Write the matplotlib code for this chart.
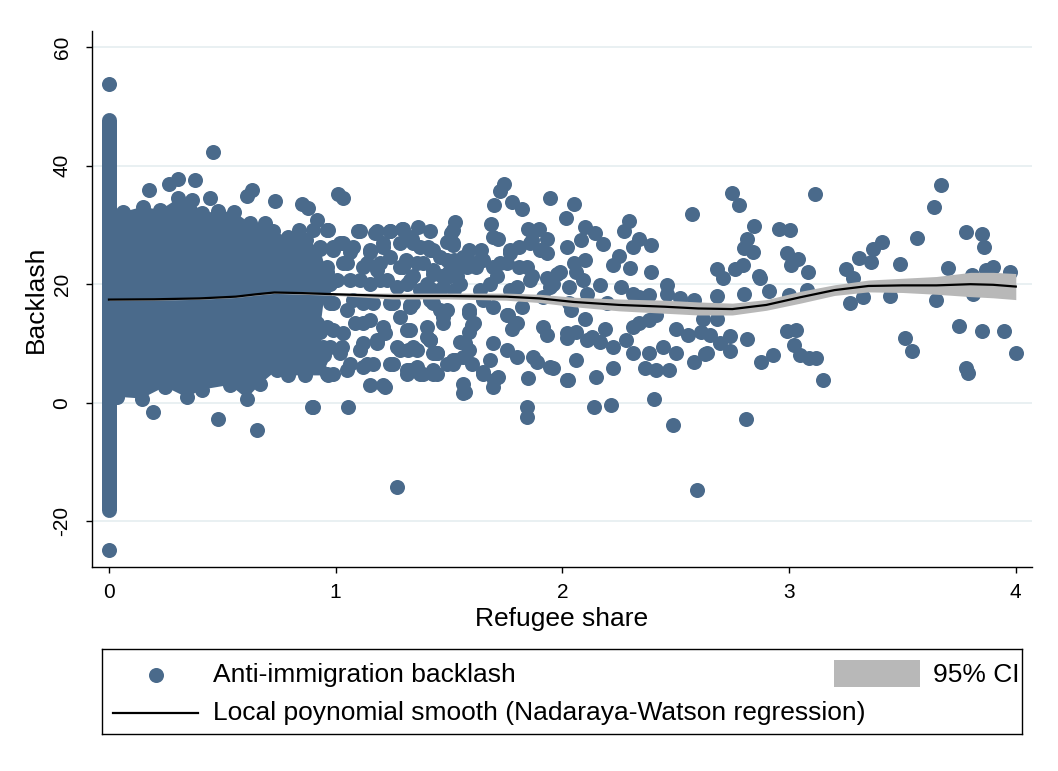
import matplotlib
matplotlib.use('Agg')
import matplotlib.pyplot as plt
from matplotlib.patches import Polygon, Rectangle
from matplotlib.lines import Line2D

# -------------------------------------------
# data
# x = refugee share, y = backlash

# the column of observations sitting at refugee share 0
col_x = 0.0
col_y_lo = -18.2
col_y_hi = 47.7

# solid mass of overlapping markers (outline markers only, inside is one blob)
blob_top_x = [0.03, 0.063, 0.151, 0.225, 0.306, 0.365, 0.409, 0.48, 0.553, 0.622,
              0.69, 0.725, 0.79, 0.838, 0.87, 0.93, 0.96, 0.95]
blob_top_y = [31.5, 32.2, 33.1, 32.5, 34.5, 34.2, 32.0, 32.3, 32.2, 30.3,
              30.4, 28.9, 28.0, 29.1, 27.5, 26.0, 22.0, 18.0]
blob_bot_x = [0.034, 0.144, 0.247, 0.343, 0.409, 0.534, 0.607, 0.666, 0.74, 0.791,
              0.865, 0.967, 0.95, 0.93]
blob_bot_y = [1.0, 0.7, 2.7, 0.9, 2.2, 3.0, 0.7, 3.1, 5.5, 4.6,
              4.6, 4.6, 8.0, 12.0]

# individual markers
pts = [
    # around the blob
    (0.0, 53.8), (0.0, -24.9),
    (0.176, 35.9), (0.265, 37.0), (0.303, 37.7), (0.379, 37.6), (0.46, 42.4), (0.446, 34.5),
    (0.607, 34.9), (0.63, 35.9), (0.732, 34.0), (0.853, 33.6), (0.879, 32.8), (0.916, 30.8),
    (1.009, 35.2), (1.034, 34.5),
    (0.195, -1.6), (0.482, -2.8), (0.654, -4.6), (0.894, -0.7), (1.056, -0.7), (1.27, -14.3),
    # 0.85 - 1.5
    (0.901, 29.1), (0.967, 29.1), (1.034, 26.9), (1.100, 28.9), (1.181, 28.9), (1.240, 28.9),
    (1.291, 29.4), (1.364, 29.7), (1.416, 28.9), (1.490, 27.2),
    (0.989, 26.3), (1.063, 25.5), (1.151, 25.5), (1.210, 26.3), (1.284, 26.9), (1.335, 27.7),
    (1.408, 26.3), (1.460, 24.6),
    (0.872, 24.6), (0.931, 26.3), (1.034, 23.5), (1.137, 23.5), (1.181, 22.4), (1.240, 24.6),
    (1.298, 22.9), (1.357, 23.5), (1.431, 21.8), (1.490, 21.8),
    (0.931, 20.7), (1.004, 20.7), (1.107, 20.7), (1.195, 20.7), (1.269, 19.6), (1.328, 20.7),
    (1.401, 19.6), (1.475, 19.6),
    (0.887, 16.2), (0.975, 16.8), (1.049, 15.6), (1.122, 16.8), (1.240, 16.8), (1.342, 16.8),
    (1.460, 15.6),
    (0.916, 13.4), (0.989, 12.2), (1.085, 13.4), (1.151, 13.9), (1.217, 11.7), (1.284, 14.5),
    (1.328, 12.2), (1.401, 12.8), (1.475, 14.5),
    (0.872, 10.6), (0.945, 9.4), (1.026, 9.4), (1.122, 10.0), (1.181, 10.6), (1.284, 8.9),
    (1.342, 9.4), (1.416, 10.6), (1.445, 8.3),
    (0.872, 6.6), (0.931, 7.2), (0.989, 4.9), (1.063, 6.6), (1.137, 6.6), (1.254, 6.6),
    (1.313, 4.9), (1.386, 4.9), (1.445, 4.9), (1.490, 6.6),
    (1.151, 3.0), (1.217, 2.7), (0.901, -0.7),
    # second pass over 0.95 - 1.55 (packed area)
    (0.960, 29.1), (1.019, 26.9), (1.107, 28.9), (1.173, 28.6), (1.240, 28.9), (1.298, 29.4),
    (1.519, 29.1), (1.519, 26.9),
    (0.989, 25.8), (1.078, 26.3), (1.151, 25.8), (1.210, 26.9), (1.342, 26.9), (1.416, 25.8),
    (1.490, 24.1), (1.548, 22.9),
    (0.960, 22.9), (1.049, 23.5), (1.122, 22.9), (1.195, 23.5), (1.284, 22.9), (1.431, 22.4),
    (1.504, 21.3),
    (0.975, 20.1), (1.063, 20.7), (1.151, 20.1), (1.225, 20.7), (1.313, 20.1), (1.401, 20.1),
    (0.989, 16.8), (1.078, 17.3), (1.166, 16.8), (1.254, 16.8), (1.328, 16.2), (1.416, 17.3),
    (1.490, 15.6),
    (0.960, 12.8), (1.034, 11.7), (1.122, 13.4), (1.210, 12.8), (1.313, 12.2), (1.401, 11.1),
    (1.475, 13.4),
    (0.975, 9.4), (1.019, 8.3), (1.107, 8.9), (1.181, 10.0), (1.269, 9.4), (1.357, 8.9),
    (1.431, 8.3), (1.519, 7.2),
    (0.960, 4.9), (1.049, 5.5), (1.122, 6.0), (1.166, 6.6), (1.240, 6.6), (1.313, 5.5),
    (1.357, 6.0), (1.431, 5.5), (1.519, 6.6), (1.210, 3.0),
    # 1.3 - 2.6 upper
    (1.742, 36.9), (1.725, 35.8), (1.70, 33.4), (1.776, 33.9), (1.82, 32.7), (1.945, 34.5),
    (2.05, 33.5), (2.016, 31.2), (2.57, 31.8), (1.526, 30.5), (1.51, 28.6), (1.516, 26.7),
    (1.684, 30.2), (1.695, 28.0), (1.717, 27.6), (1.85, 29.3), (1.898, 29.4), (1.93, 27.7),
    (2.02, 26.2), (2.10, 29.7), (2.144, 28.6), (2.08, 27.4), (2.18, 26.8), (2.295, 30.7),
    (2.27, 29.0), (2.34, 27.6), (2.39, 26.7), (2.31, 26.3), (2.25, 24.7), (2.225, 23.3),
    (2.30, 22.7), (2.39, 22.1), (2.46, 19.8),
    (1.59, 25.8), (1.64, 25.8), (1.77, 25.8), (1.865, 27.4), (1.93, 25.2), (1.81, 22.9),
    (1.975, 21.8), (2.05, 23.5), (2.10, 24.1), (2.166, 19.8), (2.26, 19.6), (2.31, 18.4),
    (2.34, 17.9), (2.38, 18.2), (2.46, 18.4), (2.52, 17.6), (2.58, 17.3),
    (1.636, 24.1), (1.52, 24.1), (1.47, 21.3), (1.58, 22.9), (1.71, 21.3), (1.865, 21.3),
    (1.93, 21.0),
    (1.33, 28.0), (1.372, 26.3), (1.43, 25.8), (1.31, 24.1), (1.386, 23.5), (1.342, 21.3),
    (1.504, 22.4), (1.563, 24.6), (1.60, 23.5), (1.65, 24.1), (1.725, 23.5), (1.68, 20.1),
    (1.55, 20.1), (1.43, 19.0),
    (1.77, 25.2), (1.81, 26.3), (1.857, 26.9), (1.90, 25.8), (1.695, 22.9), (1.754, 23.5),
    (1.843, 22.9), (1.99, 22.1), (2.06, 22.1), (2.09, 20.7), (1.578, 24.1), (1.534, 21.3),
    (1.62, 22.9), (1.857, 20.7), (1.80, 19.6), (1.945, 19.6), (2.03, 19.6),
    # around the smooth
    (1.65, 17.3), (1.372, 19.0), (1.52, 19.0), (1.636, 19.0), (1.77, 19.0), (1.916, 17.9),
    (1.96, 20.1), (2.03, 16.8), (2.107, 18.4), (2.195, 16.8),
    # 1.3 - 2.6 lower
    (1.328, 16.5), (1.43, 16.8), (1.59, 15.1), (1.60, 13.1), (1.59, 12.0), (1.695, 16.2),
    (1.754, 14.8), (1.79, 13.4), (1.78, 12.5), (1.82, 16.2), (1.916, 12.8), (1.93, 11.4),
    (2.04, 15.6), (2.10, 14.2), (2.02, 10.9), (2.06, 12.0), (2.13, 11.1), (2.19, 12.5),
    (2.166, 10.3), (2.225, 9.4), (2.28, 10.6), (2.31, 8.3), (2.34, 13.4), (2.31, 12.8),
    (2.38, 13.9), (2.415, 14.8), (2.50, 12.5), (2.555, 11.4), (2.61, 12.0), (2.64, 8.3),
    (2.58, 6.9), (2.50, 8.3), (2.445, 9.4), (2.38, 8.3), (2.364, 5.8), (2.415, 5.5),
    (2.47, 5.5), (2.225, 5.8), (2.15, 4.4), (2.026, 3.8), (2.06, 7.2), (1.96, 5.8),
    (1.886, 6.9), (1.85, 4.1), (1.80, 7.7), (1.754, 8.9), (1.70, 3.8), (1.717, 4.4),
    (1.65, 5.2), (1.695, 10.0), (1.68, 7.2), (1.60, 6.6), (1.57, 10.0), (1.526, 7.2),
    (1.563, 3.2), (1.57, 1.8), (1.43, 4.9), (1.372, 4.9), (1.33, 5.5), (1.445, 8.3),
    (1.416, 10.6), (1.32, 8.9),
    (1.59, 15.6), (1.61, 13.4), (1.76, 14.8), (1.80, 13.4), (2.02, 11.7), (2.107, 10.6),
    (1.548, 10.3), (1.59, 8.9), (1.563, 7.7), (1.872, 7.7), (1.945, 6.0), (2.02, 3.8),
    (1.65, 4.9), (1.695, 2.7), (1.563, 1.6),
    (1.843, -0.7), (1.843, -2.4), (2.14, -0.7), (2.214, -0.4), (2.405, 0.7), (2.487, -3.8),
    (2.595, -14.8),
    # 2.6 - 4
    (2.75, 35.4), (2.78, 33.4), (2.845, 29.9), (2.816, 27.6), (2.80, 26.1), (2.84, 25.4),
    (2.957, 29.3), (3.004, 29.1), (3.116, 35.3), (2.99, 25.2), (3.04, 24.2), (3.01, 23.3),
    (2.68, 22.5), (2.71, 21.0), (2.76, 22.5), (2.795, 23.3), (2.866, 21.4), (2.87, 21.0),
    (3.085, 22.0), (2.91, 18.9), (2.68, 18.0), (2.80, 18.3), (3.00, 18.1), (3.08, 19.0),
    (3.25, 22.5), (3.31, 24.4), (3.36, 23.7), (3.37, 26.0), (3.41, 27.1), (3.28, 21.0),
    (3.27, 16.8), (3.325, 17.9), (3.445, 18.0), (3.49, 23.4), (3.566, 27.8), (3.64, 33.1),
    (3.67, 36.7), (3.70, 22.8), (3.78, 28.8), (3.85, 28.5), (3.86, 26.3), (3.805, 21.5),
    (3.87, 22.4), (3.90, 22.9), (3.975, 22.0), (3.65, 17.3), (3.81, 18.3), (3.75, 13.0),
    (3.85, 12.1), (3.95, 12.1), (4.00, 8.3), (3.78, 5.9), (3.79, 5.0), (3.51, 10.9),
    (3.54, 8.8), (2.99, 12.1), (3.03, 12.2), (3.02, 9.7), (3.05, 8.1), (3.09, 7.6),
    (3.12, 7.6), (3.15, 3.8), (2.93, 8.1), (2.875, 6.9), (2.815, 10.7), (2.74, 11.2),
    (2.65, 11.5), (2.63, 8.2), (2.695, 10.0), (2.74, 8.7), (2.62, 14.2), (2.68, 14.2),
    (2.81, -2.8),
]

# local polynomial smooth with 95% CI
smooth_x = [0, 0.2, 0.4, 0.56, 0.65, 0.73, 0.85, 1.0, 1.25, 1.5, 1.75, 1.9, 2.05, 2.25,
            2.45, 2.6, 2.75, 2.9, 3.05, 3.2, 3.35, 3.5, 3.65, 3.8, 3.9, 4.0]
smooth_y = [17.4, 17.45, 17.6, 17.9, 18.3, 18.6, 18.5, 18.3, 18.0, 18.0, 17.9, 17.6, 17.0,
            16.5, 16.2, 15.9, 15.8, 16.5, 17.8, 19.0, 19.7, 19.8, 19.8, 20.0, 19.9, 19.6]
ci_lo = [17.25, 17.3, 17.45, 17.75, 18.15, 18.45, 18.3, 18.1, 17.5, 17.5, 17.3, 16.9, 16.2,
         15.5, 15.1, 14.8, 14.8, 15.6, 16.8, 18.1, 18.7, 18.6, 18.3, 17.9, 17.7, 17.4]
ci_hi = [17.55, 17.6, 17.75, 18.05, 18.45, 18.75, 18.7, 18.5, 18.5, 18.5, 18.5, 18.3, 17.8,
         17.5, 17.3, 17.0, 16.8, 17.4, 18.8, 19.9, 20.7, 21.0, 21.3, 22.0, 22.0, 21.8]

xticks = [0, 1, 2, 3, 4]
yticks = [-20, 0, 20, 40, 60]

# -------------------------------------------
dot_col = '#4a6a8b'
ci_col = '#b8b8b8'
grid_col = '#e7eff1'
msize = 117  # ~15 px wide markers

plt.rcParams['font.family'] = ['Liberation Sans', 'DejaVu Sans']
plt.rcParams['axes.unicode_minus'] = False

fig = plt.figure(figsize=(10.58, 7.71), dpi=100)
ax = fig.add_axes([0.0867, 0.2642, 0.8884, 0.6956])

# grid first so everything sits on top
for yv in yticks:
    ax.axhline(yv, color=grid_col, lw=1.3, zorder=0)

# column at zero share drawn as a fat rounded stroke
ax.plot([col_x, col_x], [col_y_lo, col_y_hi], color=dot_col, lw=10.8,
        solid_capstyle='round', zorder=2)

# blob of overlapping markers
blob = list(zip(blob_top_x, blob_top_y)) + list(zip(blob_bot_x, blob_bot_y))[::-1]
ax.add_patch(Polygon(blob, closed=True, facecolor=dot_col, edgecolor='none', zorder=2))
ax.scatter(blob_top_x + blob_bot_x, blob_top_y + blob_bot_y, s=msize, color=dot_col,
           linewidths=0, zorder=2)

px = [p[0] for p in pts]
py = [p[1] for p in pts]
ax.scatter(px, py, s=msize, color=dot_col, linewidths=0, zorder=2)

# CI band and smooth on top
ax.fill_between(smooth_x, ci_lo, ci_hi, color=ci_col, linewidth=0, zorder=3)
ax.plot(smooth_x, smooth_y, color='black', lw=1.6, zorder=4)

ax.set_xlim(-0.076, 4.07)
ax.set_ylim(-27.8, 62.75)
ax.set_xticks(xticks)
ax.set_yticks(yticks)
ax.spines['top'].set_visible(False)
ax.spines['right'].set_visible(False)
for s in ['left', 'bottom']:
    ax.spines[s].set_linewidth(1.0)
ax.tick_params(length=4.5, width=1.0, labelsize=15)
ax.tick_params(axis='x', pad=7)
ax.tick_params(axis='y', pad=10)
for lab in ax.get_yticklabels():
    lab.set_rotation(90)
    lab.set_va('center')

# axis titles
fig.text(561.7 / 1058, 1 - 625.7 / 771, 'Refugee share', ha='center', va='baseline', fontsize=19)
fig.text(36 / 1058, 1 - 299 / 771, 'Backlash', ha='center', va='center', rotation=90, fontsize=19)

# legend box drawn by hand (Stata style layout)
lax = fig.add_axes([0.0961, 0.0476, 0.8702, 0.1103])
lax.set_xlim(0, 1)
lax.set_ylim(0, 1)
lax.set_xticks([])
lax.set_yticks([])
for s in lax.spines.values():
    s.set_linewidth(1.0)

r1, r2 = 0.698, 0.251
lax.scatter([0.0587], [r1], s=msize, color=dot_col, linewidths=0)
lax.text(0.1206, r1, 'Anti-immigration backlash', va='center', ha='left', fontsize=19)
lax.add_patch(Rectangle((0.7955, 0.56), 0.0934, 0.314, facecolor=ci_col, edgecolor='none'))
lax.text(0.9033, r1, '95% CI', va='center', ha='left', fontsize=19)
lax.add_line(Line2D([0.012, 0.1044], [r2, r2], color='black', lw=1.6))
lax.text(0.1206, r2, 'Local poynomial smooth (Nadaraya-Watson regression)', va='center',
         ha='left', fontsize=19)

fig.savefig('out.png', dpi=100)
